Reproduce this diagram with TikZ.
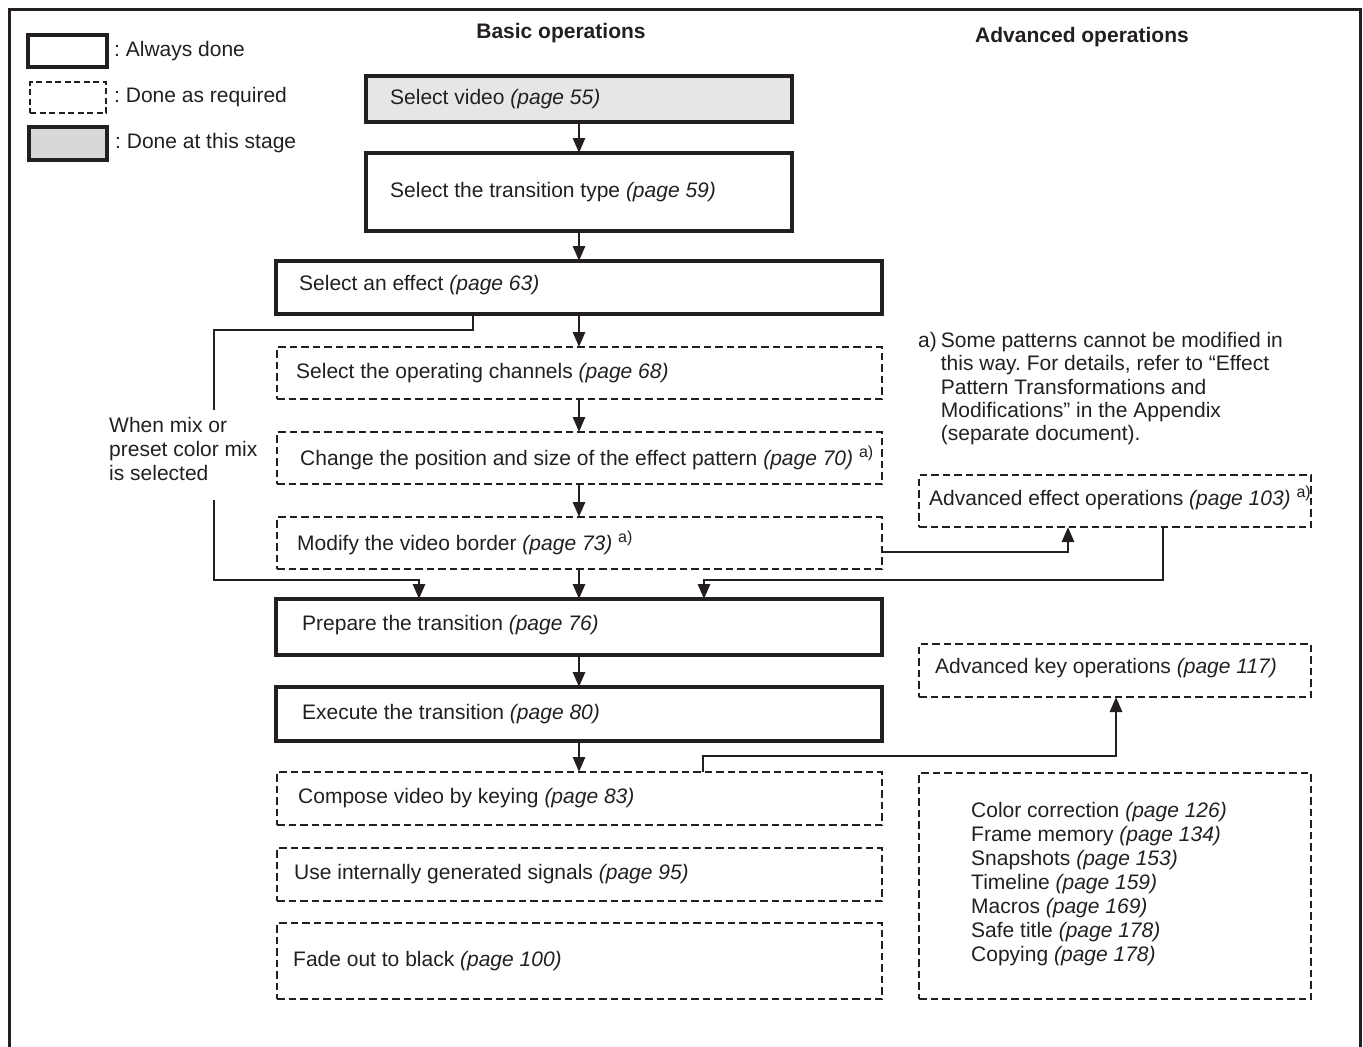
\documentclass[tikz,border=0pt]{standalone}
\usepackage{fontspec}
\setmainfont{Liberation Sans}
\usetikzlibrary{arrows.meta}
\definecolor{ink}{HTML}{231F20}
\definecolor{fillA}{HTML}{E6E6E6}
\definecolor{fillB}{HTML}{D8D8D8}
\newcommand{\footA}{\raisebox{8pt}{\fontsize{16}{16}\selectfont a)}}
\frenchspacing
\begin{document}
\begin{tikzpicture}[x=1pt,y=-1pt,
  font=\fontsize{21}{24}\selectfont,
  box/.style={draw=ink, inner sep=0pt, outer sep=0pt, anchor=north west},
  solidbox/.style={box, line width=3.6pt},
  dashbox/.style={box, line width=1.8pt, dash pattern=on 7.5pt off 4pt},
  lbl/.style={anchor=west, inner sep=0pt, text=ink},
  conn/.style={draw=ink, line width=2.8pt},
  arr/.style={conn, -{Triangle[length=15pt,width=12pt]}},
]
\useasboundingbox (0,0) rectangle (1363,1047);
% outer frame (open at the bottom)
\draw[ink, line width=3pt] (9,1060) -- (9,9) -- (1360,9) -- (1360,1060);

% legend
\node[solidbox, minimum width=79pt, minimum height=32pt] (lg1) at (28,35) {};
\node[lbl] (lt1) at ([xshift=7pt]lg1.east) {: Always done};
\node[box, line width=1.4pt, dash pattern=on 6pt off 3.5pt, minimum width=76pt, minimum height=31pt] (lg2) at (30,82) {};
\node[lbl] (lt2) at ([xshift=8pt]lg2.east) {: Done as required};
\node[solidbox, fill=fillB, minimum width=78pt, minimum height=33pt] (lg3) at (29,127) {};
\node[lbl] (lt3) at ([xshift=8pt]lg3.east) {: Done at this stage};

% headers
\node[text=ink, font=\fontsize{21}{24}\selectfont\bfseries] (hb) at (561,33) {Basic operations};
\node[text=ink, font=\fontsize{21}{24}\selectfont\bfseries] (ha) at (1082,37) {Advanced operations};

% basic column
\node[solidbox, fill=fillA, minimum width=426pt, minimum height=46pt] (b1) at (366,76) {};
\node[lbl] (t1) at ([xshift=24pt]b1.west) {Select video \textit{(page 55)}};
\node[solidbox, minimum width=426pt, minimum height=78pt] (b2) at (366,153) {};
\node[lbl] (t2) at ([xshift=24pt]b2.west) {Select the transition type \textit{(page 59)}};
\node[solidbox, minimum width=606pt, minimum height=53pt] (b3) at (276,261) {};
\node[lbl] (t3) at ([xshift=23pt,yshift=2pt]b3.west) {Select an effect \textit{(page 63)}};
\node[dashbox, minimum width=605pt, minimum height=52pt] (b4) at (277,347) {};
\node[lbl] (t4) at ([xshift=19pt]b4.west) {Select the operating channels \textit{(page 68)}};
\node[dashbox, minimum width=605pt, minimum height=52pt] (b5) at (277,432) {};
\node[lbl] (t5) at ([xshift=23pt]b5.west) {Change the position and size of the effect pattern \textit{(page 70)} \footA};
\node[dashbox, minimum width=605pt, minimum height=52pt] (b6) at (277,517) {};
\node[lbl] (t6) at ([xshift=20pt]b6.west) {Modify the video border \textit{(page 73)} \footA};
\node[solidbox, minimum width=606pt, minimum height=56pt] (prep) at (276,599) {};
\node[lbl] (t7) at ([xshift=26pt,yshift=2pt]prep.west) {Prepare the transition \textit{(page 76)}};
\node[solidbox, minimum width=606pt, minimum height=54pt] (ex) at (276,687) {};
\node[lbl] (t8) at ([xshift=26pt]ex.west) {Execute the transition \textit{(page 80)}};
\node[dashbox, minimum width=605pt, minimum height=53pt] (comp) at (277,772) {};
\node[lbl] (t9) at ([xshift=21pt]comp.west) {Compose video by keying \textit{(page 83)}};
\node[dashbox, minimum width=605pt, minimum height=53pt] (sig) at (277,848) {};
\node[lbl] (t10) at ([xshift=17pt]sig.west) {Use internally generated signals \textit{(page 95)}};
\node[dashbox, minimum width=605pt, minimum height=76pt] (fade) at (277,923) {};
\node[lbl] (t11) at ([xshift=16pt]fade.west) {Fade out to black \textit{(page 100)}};

% advanced column
\node[lbl, anchor=north west] (fn) at (918,331) {\fontsize{21}{23.3}\selectfont
  \begin{tabular}{@{}l@{\hspace{4pt}}l@{}}
  a) & Some patterns cannot be modified in\\
     & this way. For details, refer to “Effect\\
     & Pattern Transformations and\\
     & Modifications” in the Appendix\\
     & (separate document).
  \end{tabular}};
\node[dashbox, minimum width=392pt, minimum height=52pt] (ae) at (919,475) {};
\node[lbl] (t12) at ([xshift=10pt,yshift=3pt]ae.west) {Advanced effect operations \textit{(page 103)} \footA};
\node[dashbox, minimum width=392pt, minimum height=53pt] (ak) at (919,644) {};
\node[lbl] (t13) at ([xshift=16pt,yshift=2pt]ak.west) {Advanced key operations \textit{(page 117)}};
\node[dashbox, minimum width=392pt, minimum height=226pt] (abig) at (919,773) {};
\node[lbl, align=left] (t14) at ([xshift=52pt,yshift=2pt]abig.west) {Color correction \textit{(page 126)}\\
Frame memory \textit{(page 134)}\\
Snapshots \textit{(page 153)}\\
Timeline \textit{(page 159)}\\
Macros \textit{(page 169)}\\
Safe title \textit{(page 178)}\\
Copying \textit{(page 178)}};

% side label
\node[lbl, align=left] (mix) at (109,449) {When mix or\\preset color mix\\is selected};

% main flow connectors
\draw[arr] (b1.south) -- (b1.south |- b2.north);
\draw[arr] (b2.south) -- (b2.south |- b3.north);
\draw[arr] (b3.south) -- (b3.south |- b4.north);
\draw[arr] (b3.south |- b4.south) -- (b3.south |- b5.north);
\draw[arr] (b3.south |- b5.south) -- (b3.south |- b6.north);
\draw[arr] (b3.south |- b6.south) -- (b3.south |- prep.north);
\draw[arr] (prep.south) -- (prep.south |- ex.north);
\draw[arr] (ex.south) -- (ex.south |- comp.north);

% mix branch
\coordinate (m1) at (214,410);
\coordinate (m2) at (214,500);
\coordinate (m3) at (419,580);
\draw[conn] ([xshift=-106pt]b3.south) -- ++(0,16) -| (m1);
\draw[arr] (m2) |- (m3) -- (m3 |- prep.north);

% advanced effect loop
\draw[arr] ([yshift=-9pt]b6.east) -| ([xshift=-47pt]ae.south);
\coordinate (r1) at (704,580);
\draw[arr] ([xshift=48pt]ae.south) |- (r1) -- (r1 |- prep.north);

% advanced key branch
\coordinate (k1) at (703,756);
\draw[arr] (k1 |- comp.north) -- (k1) -| ([xshift=1pt]ak.south);
\end{tikzpicture}
\end{document}
